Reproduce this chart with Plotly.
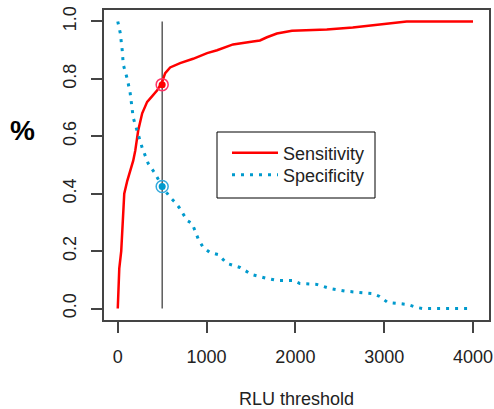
import plotly.graph_objects as go

# Sensitivity / specificity against RLU threshold
sens_x = [0, 6, 17, 39, 62, 73, 107, 140, 174, 197, 230, 275, 331, 388, 444, 500,
          534, 590, 702, 848, 1006, 1118, 1298, 1522, 1601, 1680, 1792, 1961,
          2354, 2646, 2983, 3140, 3253, 4000]
sens_y = [0.0, 0.04, 0.14, 0.20, 0.33, 0.40, 0.445, 0.48, 0.515, 0.55, 0.62, 0.68,
          0.72, 0.74, 0.76, 0.79, 0.82, 0.84, 0.855, 0.87, 0.89, 0.90, 0.92, 0.93,
          0.934, 0.945, 0.958, 0.968, 0.972, 0.979, 0.99, 0.996, 1.0, 1.0]

spec_x = [0, 28, 50, 62, 107, 140, 174, 230, 275, 343, 421, 500, 590, 646, 691,
          781, 837, 871, 904, 961, 1039, 1129, 1230, 1376, 1511, 1680, 1792, 1972,
          2051, 2242, 2388, 2579, 2758, 2871, 2949, 3039, 3174, 3264, 3365, 3433, 4000]
spec_y = [1.0, 0.96, 0.90, 0.85, 0.80, 0.75, 0.665, 0.61, 0.56, 0.505, 0.47, 0.425,
          0.387, 0.37, 0.352, 0.307, 0.296, 0.27, 0.244, 0.213, 0.195, 0.188, 0.157,
          0.143, 0.118, 0.105, 0.098, 0.098, 0.087, 0.084, 0.07, 0.06, 0.056, 0.052,
          0.042, 0.021, 0.017, 0.014, 0.004, 0.0, 0.0]

# chosen cut-off and its values
cutoff = [500]
cutoff_sens = [0.78]
cutoff_spec = [0.425]

x_ticks = [0, 1000, 2000, 3000, 4000]
y_ticks = [0.0, 0.2, 0.4, 0.6, 0.8, 1.0]

RED = "#ff0000"
BLUE = "#009acd"
FONT = "Liberation Sans, Arial, sans-serif"

# plot area in pixels (the margins are fixed below)
L, R, T, B = 104, 489, 10, 320


def px_x(p):
    return (p - L) / (R - L)


def px_y(p):
    return (B - p) / (B - T)


fig = go.Figure()

# vertical cut-off line
fig.add_trace(go.Scatter(
    x=cutoff * 2, y=[0, 1], mode="lines",
    line=dict(color="#333333", width=1.2), showlegend=False, hoverinfo="skip",
))

fig.add_trace(go.Scatter(
    x=sens_x, y=sens_y, mode="lines", name="Sensitivity",
    line=dict(color=RED, width=2.5), legend="legend",
))
fig.add_trace(go.Scatter(
    x=spec_x, y=spec_y, mode="lines", name="Specificity",
    line=dict(color=BLUE, width=3, dash="3px,6px"), legend="legend2",
))

# highlighted points at the cut-off
for yv, col, ring in [(cutoff_sens, RED, "#ff3366"), (cutoff_spec, BLUE, "#33aadd")]:
    fig.add_trace(go.Scatter(
        x=cutoff, y=yv, mode="markers", showlegend=False,
        marker=dict(symbol="circle-open", size=12, color=ring, line=dict(width=1.5)),
    ))
    fig.add_trace(go.Scatter(
        x=cutoff, y=yv, mode="markers", showlegend=False,
        marker=dict(symbol="circle", size=7, color=col),
    ))

# legend frame
fig.add_shape(
    type="rect", xref="paper", yref="paper",
    x0=px_x(217), x1=px_x(375), y0=px_y(198), y1=px_y(132),
    line=dict(color="black", width=1), fillcolor="white", layer="below",
)

fig.add_annotation(
    text="<b>%</b>", x=px_x(22), y=px_y(130), xref="paper", yref="paper",
    xanchor="center", yanchor="middle", showarrow=False,
    font=dict(size=28, color="black", family=FONT),
)

axis_common = dict(
    showline=True, mirror=True, linecolor="#444444", linewidth=1.5,
    ticks="outside", ticklen=11, tickwidth=1.5, tickcolor="#444444",
    showgrid=False, zeroline=False, automargin=False,
    tickfont=dict(size=18, color="#222222", family=FONT),
)

legend_common = dict(
    xanchor="left", yanchor="middle", borderwidth=0, bgcolor="rgba(0,0,0,0)",
    font=dict(size=18, family=FONT, color="#222222"), itemwidth=46,
)

fig.update_layout(
    width=494, height=409,
    margin=dict(l=L, r=494 - R, t=T, b=409 - B),
    plot_bgcolor="white", paper_bgcolor="white",
    font=dict(family=FONT, color="#222222"),
    xaxis=dict(
        range=[-155, 4180], tickvals=x_ticks, ticktext=[str(v) for v in x_ticks],
        ticklabelstandoff=9,
        title=dict(text="RLU threshold", font=dict(size=18, family=FONT), standoff=28),
        **axis_common,
    ),
    yaxis=dict(
        range=[-0.04, 1.04], tickvals=y_ticks, ticktext=[f"{v:.1f}" for v in y_ticks],
        tickangle=-90, ticklabelstandoff=8,
        **axis_common,
    ),
    legend=dict(x=px_x(227), y=px_y(153), **legend_common),
    legend2=dict(x=px_x(227), y=px_y(175), **legend_common),
)

# drop the default page margin so the figure sits at the window's corner
fig.write_html(
    "out.html",
    config={"displayModeBar": False},
    post_script="document.body.style.margin='0';",
)
